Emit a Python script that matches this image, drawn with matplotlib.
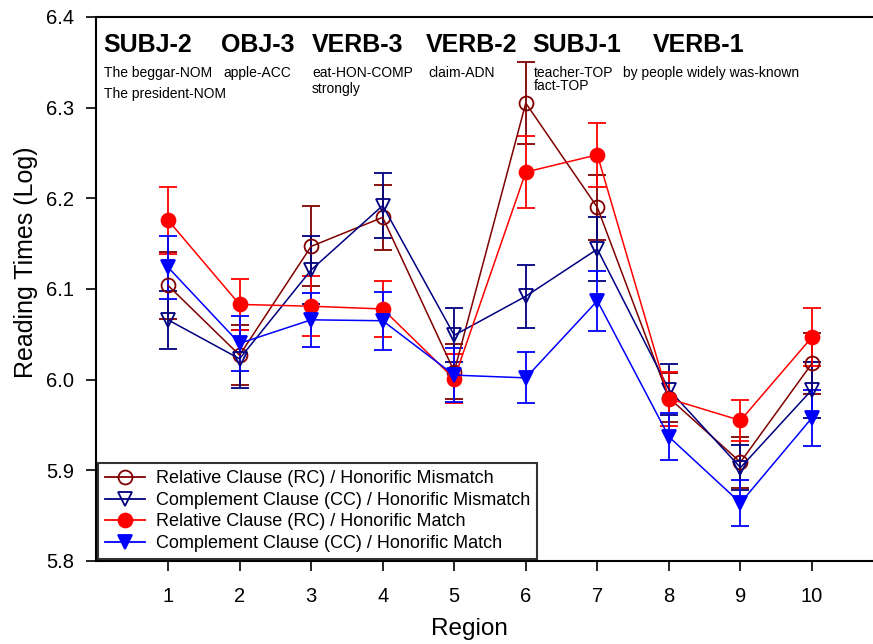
import matplotlib
matplotlib.use("Agg")
import matplotlib.pyplot as plt
from matplotlib.lines import Line2D

plt.rcParams['font.family'] = ['Liberation Sans', 'DejaVu Sans']

regions = [1, 2, 3, 4, 5, 6, 7, 8, 9, 10]

rc_mm = [6.104, 6.027, 6.147, 6.179, 6.009, 6.305, 6.190, 5.980, 5.909, 6.018]
rc_mm_err = [0.037, 0.033, 0.044, 0.036, 0.030, 0.045, 0.036, 0.027, 0.028, 0.034]
cc_mm = [6.066, 6.023, 6.121, 6.192, 6.049, 6.092, 6.144, 5.989, 5.903, 5.989]
cc_mm_err = [0.032, 0.032, 0.037, 0.036, 0.030, 0.035, 0.035, 0.028, 0.025, 0.031]
rc_m = [6.176, 6.083, 6.081, 6.078, 6.001, 6.229, 6.248, 5.979, 5.955, 6.047]
rc_m_err = [0.037, 0.028, 0.033, 0.031, 0.027, 0.040, 0.035, 0.030, 0.023, 0.032]
cc_m = [6.124, 6.040, 6.066, 6.065, 6.005, 6.002, 6.087, 5.937, 5.864, 5.958]
cc_m_err = [0.035, 0.030, 0.030, 0.032, 0.030, 0.028, 0.033, 0.026, 0.025, 0.031]

labels = ["Relative Clause (RC) / Honorific Mismatch",
          "Complement Clause (CC) / Honorific Mismatch",
          "Relative Clause (RC) / Honorific Match",
          "Complement Clause (CC) / Honorific Match"]

region_heads = ["SUBJ-2", "OBJ-3", "VERB-3", "VERB-2", "SUBJ-1", "VERB-1"]
gloss_line1 = ["The beggar-NOM", "apple-ACC", "eat-HON-COMP", "claim-ADN", "teacher-TOP",
               "by people widely was-known"]
gloss_line2 = ["The president-NOM", "", "strongly", "", "fact-TOP", ""]

yticks = [5.8, 5.9, 6.0, 6.1, 6.2, 6.3, 6.4]

W, H = 873, 644
fig = plt.figure(figsize=(W / 100, H / 100), dpi=100)
ax = fig.add_axes([96 / W, (H - 561) / H, 1 - 96 / W, (561 - 17) / H])

styles = [
    dict(color='#800000', marker='o', mfc='none', mec='#800000'),
    dict(color='#000080', marker='v', mfc='none', mec='#000080'),
    dict(color='#ff0000', marker='o', mfc='#ff0000', mec='#ff0000'),
    dict(color='#0000ff', marker='v', mfc='#0000ff', mec='#0000ff'),
]
series = [(rc_mm, rc_mm_err), (cc_mm, cc_mm_err), (rc_m, rc_m_err), (cc_m, cc_m_err)]

handles = []
for (vals, errs), st, lab in zip(series, styles, labels):
    ax.errorbar(regions, vals, yerr=errs, lw=1.1, ms=10, mew=1.3,
                elinewidth=1.3, capsize=6.5, capthick=1.3, **st)
    handles.append(Line2D([], [], lw=1.3, ms=10, mew=1.3, label=lab, **st))

ax.set_xlim(-0.006, 10.852)
ax.set_ylim(5.8, 6.4)
ax.set_xticks(regions)
ax.set_yticks(yticks)
ax.set_yticklabels([f"{v:.1f}" for v in yticks])
ax.tick_params(axis='x', direction='out', length=7, width=1.2, labelsize=14.5, pad=12)
ax.tick_params(axis='y', direction='out', length=7, width=1.2, labelsize=14.5, pad=9)
ax.spines['right'].set_visible(False)
for s in ['left', 'bottom', 'top']:
    ax.spines[s].set_linewidth(1.5)

ax.set_xlabel("Region", fontsize=17.5)
ax.xaxis.set_label_coords(0.481, -0.105)
ax.set_ylabel("Reading Times (Log)", fontsize=18)
ax.yaxis.set_label_coords(-0.075, 0.55)

leg = ax.legend(handles=handles, loc='lower left', fontsize=13, frameon=True, fancybox=False,
                borderaxespad=0.1, labelspacing=0.25, handlelength=2.2,
                handletextpad=0.6, borderpad=0.4, numpoints=1)
leg.get_frame().set_edgecolor('black')
leg.get_frame().set_linewidth(1.5)

head_x = [103, 221, 312, 426, 532, 653]
for t, px in zip(region_heads, head_x):
    fig.text(px / W, (H - 52) / H, t, fontsize=18, fontweight='bold', ha='left', va='baseline')

g1_x = [104, 223, 312, 428, 534, 623]
g2_y = [98, 0, 93, 0, 90, 0]
for t1, t2, px, py2 in zip(gloss_line1, gloss_line2, g1_x, g2_y):
    fig.text(px / W, (H - 77) / H, t1, fontsize=10, ha='left', va='baseline')
    if t2:
        fig.text(px / W, (H - py2) / H, t2, fontsize=10, ha='left', va='baseline')

fig.savefig("out.png", dpi=100)
